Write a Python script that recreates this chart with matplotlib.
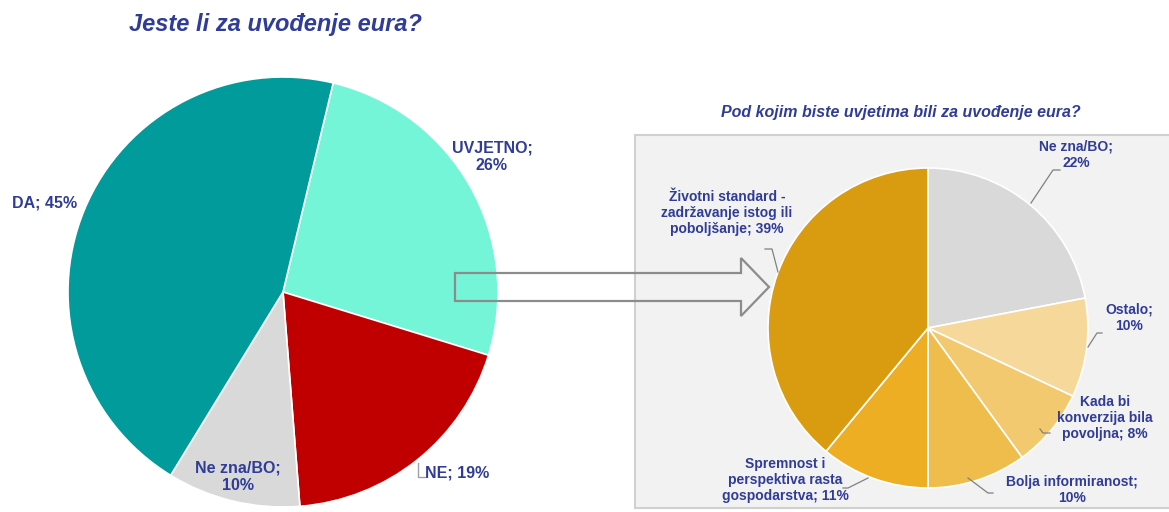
import matplotlib.pyplot as plt
from matplotlib.patches import Rectangle, Polygon

plt.rcParams['font.family'] = ['Liberation Sans', 'DejaVu Sans']

# left pie: attitude towards the euro
main_labels = ['UVJETNO', 'NE', 'Ne zna/BO', 'DA']
main_values = [26, 19, 10, 45]
main_colors = ['#75F5D8', '#C00000', '#D9D9D9', '#009B9A']

# right pie: conditions for adopting the euro
cond_labels = ['Ne zna/BO', 'Ostalo', 'Kada bi\nkonverzija bila\npovoljna',
               'Bolja informiranost', 'Spremnost i\nperspektiva rasta\ngospodarstva',
               'Životni standard -\nzadržavanje istog ili\npoboljšanje']
cond_values = [22, 10, 8, 10, 11, 39]
cond_colors = ['#D9D9D9', '#F6D99A', '#F2C96E', '#EFBD4C', '#EDAE23', '#D99C11']

W, H = 1169, 512
text_blue = '#2F3C98'
fig = plt.figure(figsize=(W / 100, H / 100), dpi=100)

# overlay in pixel coordinates for panel, arrow and labels
over = fig.add_axes([0, 0, 1, 1])
over.set_xlim(0, W)
over.set_ylim(H, 0)
over.axis('off')

over.add_patch(Rectangle((635, 135), 560, 373, facecolor='#F2F2F2',
                         edgecolor='#D0D0D0', lw=1.5, zorder=0))


def pie_axes(cx, cy, r):
    ax = fig.add_axes([(cx - r) / W, (H - cy - r) / H, 2 * r / W, 2 * r / H])
    ax.patch.set_alpha(0)
    return ax


def finish(ax):
    # pie() resets the limits, so fix them afterwards
    ax.set_xlim(-1, 1)
    ax.set_ylim(-1, 1)
    ax.set_aspect('equal')
    ax.axis('off')


ax1 = pie_axes(283, 292, 215)
ax1.pie(main_values, colors=main_colors, startangle=90 - 13.5, counterclock=False,
        radius=1, wedgeprops=dict(edgecolor='white', linewidth=1.2))
finish(ax1)

ax2 = pie_axes(928, 328, 160)
ax2.pie(cond_values, colors=cond_colors, startangle=90, counterclock=False,
        radius=1, wedgeprops=dict(edgecolor='white', linewidth=1.2))
finish(ax2)

# outlined block arrow between the two pies
arrow = [(455, 273), (741, 273), (741, 258), (769, 287), (741, 316),
         (741, 301), (455, 301)]
top = fig.add_axes([0, 0, 1, 1])
top.set_xlim(0, W)
top.set_ylim(H, 0)
top.axis('off')
top.patch.set_alpha(0)
top.add_patch(Polygon(arrow, closed=True, fill=False, edgecolor='#8C8C8C', lw=1.6))

top.text(275, 24, 'Jeste li za uvođenje eura?', ha='center', va='center',
         fontsize=17, fontweight='bold', style='italic', color=text_blue)
top.text(901, 113, 'Pod kojim biste uvjetima bili za uvođenje eura?', ha='center',
         va='center', fontsize=11.5, fontweight='bold', style='italic', color=text_blue)

# left pie labels
main_pos = {'UVJETNO': (492, 157, '{};\n{}%'), 'NE': (457, 473, '{}; {}%'),
            'Ne zna/BO': (238, 477, '{};\n{}%'), 'DA': (45, 203, '{}; {}%')}
for lab, val in zip(main_labels, main_values):
    x, y, fmt = main_pos[lab]
    top.text(x, y, fmt.format(lab, val), ha='center', va='center', fontsize=11.5,
             fontweight='bold', color=text_blue, linespacing=1.25)
top.plot([418, 418, 425], [463, 477, 477], color='#A0A0A0', lw=1)

# right pie labels with leader lines
cond_pos = [(1076, 155), (1129, 318), (1105, 418), (1072, 490), (785, 480), (727, 213)]
leaders = [
    [(1060, 170), (1053, 170), (1031, 203)],
    [(1102, 333), (1097, 333), (1088, 347)],
    [(1050, 433), (1043, 433), (1040, 429)],
    [(993, 493), (988, 493), (968, 478)],
    [(843, 488), (848, 488), (868, 478)],
    [(765, 249), (772, 249), (778, 272)],
]
for lab, val, (x, y), seg in zip(cond_labels, cond_values, cond_pos, leaders):
    sep = '\n' if lab in ('Ne zna/BO', 'Ostalo', 'Bolja informiranost') else ' '
    top.text(x, y, '{};{}{}%'.format(lab, sep, val), ha='center', va='center',
             fontsize=10, fontweight='bold', color=text_blue, linespacing=1.2)
    xs, ys = zip(*seg)
    top.plot(xs, ys, color='#808080', lw=0.9)

fig.savefig('out.png', dpi=100)
